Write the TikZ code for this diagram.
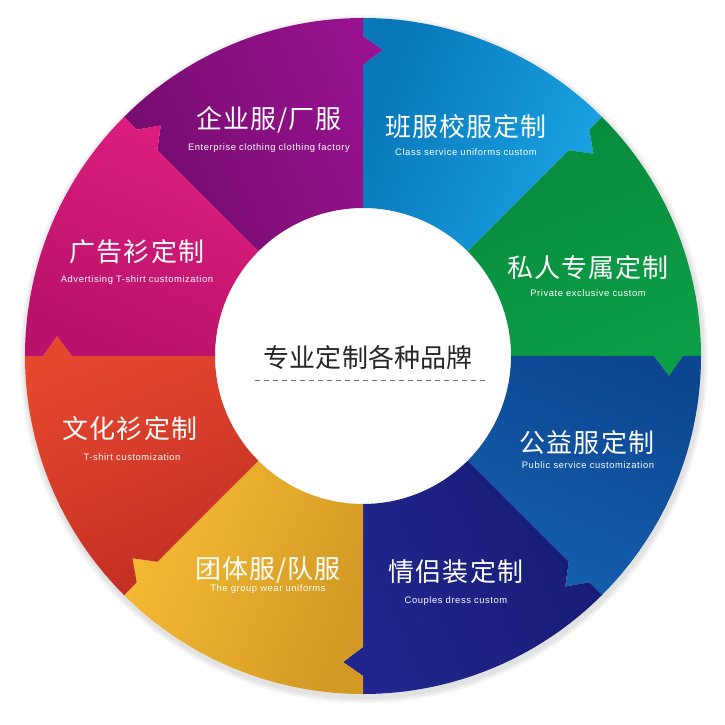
\documentclass[tikz,border=0pt]{standalone}
\usepackage{fontspec}
\setmainfont{Liberation Sans}
\newfontfamily\cjk{Noto Sans CJK SC}
\newfontfamily\cjkwide[LetterSpace=4]{Noto Sans CJK SC}
\newfontfamily\subfont[LetterSpace=6]{Liberation Sans}
\usetikzlibrary{calc}
\definecolor{purpleD}{HTML}{740C6E}
\definecolor{purpleM}{HTML}{8C1084}
\definecolor{purpleL}{HTML}{981290}
\definecolor{cyanD}{HTML}{0876B8}
\definecolor{cyanM}{HTML}{0C8FD4}
\definecolor{cyanL}{HTML}{1AA4E4}
\definecolor{greenD}{HTML}{088A3D}
\definecolor{greenM}{HTML}{0A9843}
\definecolor{greenL}{HTML}{0C9E46}
\definecolor{dblueD}{HTML}{0C4690}
\definecolor{dblueM}{HTML}{0F54A2}
\definecolor{dblueL}{HTML}{1460B0}
\definecolor{navyD}{HTML}{181C76}
\definecolor{navyM}{HTML}{1D2388}
\definecolor{navyL}{HTML}{20268E}
\definecolor{yellowD}{HTML}{D29A24}
\definecolor{yellowM}{HTML}{F2B22E}
\definecolor{yellowL}{HTML}{F6BA33}
\definecolor{redD}{HTML}{C22E24}
\definecolor{redM}{HTML}{E2412B}
\definecolor{redL}{HTML}{E6482E}
\definecolor{pinkD}{HTML}{B8126A}
\definecolor{pinkM}{HTML}{D81A78}
\definecolor{pinkL}{HTML}{DE1E7E}
\tikzset{
  title/.style={text=white, font=\cjkwide\fontsize{26}{26}\selectfont, inner sep=0pt},
  subtitle/.style={text=white, font=\subfont\fontsize{9.4}{10}\selectfont, inner sep=0pt},
  coretext/.style={text=black!85, font=\cjk\fontsize{26}{26}\selectfont, inner sep=0pt},
}
\begin{document}
\begin{tikzpicture}[x=1pt,y=1pt]
\useasboundingbox (-363,-369) rectangle (361,356);
\def\Ro{338}\def\Ri{148}\def\Ra{291}\def\Rb{320}\def\Rt{306}\def\Dp{20}
% soft outer shadow
\foreach \r in {344,342,340}{
  \fill[black, opacity=0.04] (1,-3) circle (\r);
}
\fill[white] (0,0) circle (\Ri+4);
% ring segments
\foreach \a/\dc/\mc/\lc in {90/purpleD/purpleM/purpleL, 45/cyanD/cyanM/cyanL, 0/greenD/greenM/greenL, -45/dblueD/dblueM/dblueL, -90/navyD/navyM/navyL, -135/yellowD/yellowM/yellowL, 180/redD/redM/redL, 135/pinkD/pinkM/pinkL}{
  \pgfmathsetmacro\b{\a+45}
  \pgfmathsetmacro\sa{\a+22.5}
  \pgfmathsetmacro\pa{\a-90}
  \pgfmathsetmacro\pb{\b-90}
  \shade[top color=\dc, middle color=\mc, bottom color=\lc, shading angle=\sa]
    (\a:\Ri) -- (\a:\Ra) -- ($(\a:\Rt)+(\pa:\Dp)$) -- (\a:\Rb) -- (\a:\Ro)
    arc[start angle=\a, end angle=\b, radius=\Ro]
    -- (\b:\Rb) -- ($(\b:\Rt)+(\pb:\Dp)$) -- (\b:\Ra) -- (\b:\Ri)
    arc[start angle=\b, end angle=\a, radius=\Ri] -- cycle;
}
% titles
\node[title] (t1) at (-94,236) {企业服/厂服};
\node[subtitle] (e1) at (-94,208) {Enterprise clothing clothing factory};
\node[title] (t2) at (103,229) {班服校服定制};
\node[subtitle] (e2) at (103,204) {Class service uniforms custom};
\node[title] (t3) at (225,88) {私人专属定制};
\node[subtitle] (e3) at (225,63) {Private exclusive custom};
\node[title] (t4) at (224,-87) {公益服定制};
\node[subtitle] (e4) at (225,-109) {Public service customization};
\node[title] (t5) at (93,-216) {情侣装定制};
\node[subtitle] (e5) at (93,-245) {Couples dress custom};
\node[title] (t6) at (-95,-214) {团体服/队服};
\node[subtitle] (e6) at (-95,-233) {The group wear uniforms};
\node[title] (t7) at (-233,-73) {文化衫定制};
\node[subtitle] (e7) at (-231,-101) {T-shirt customization};
\node[title] (t8) at (-226,104) {广告衫定制};
\node[subtitle] (e8) at (-226,76) {Advertising T-shirt customization};
% centre
\node[coretext] (core) at (5,-2) {专业定制各种品牌};
\coordinate (dl) at (-108,-24);
\coordinate (dr) at (122,-24);
\draw[black!55, line width=1pt, dash pattern=on 5pt off 4pt] (dl) -- (dr);
\end{tikzpicture}
\end{document}
